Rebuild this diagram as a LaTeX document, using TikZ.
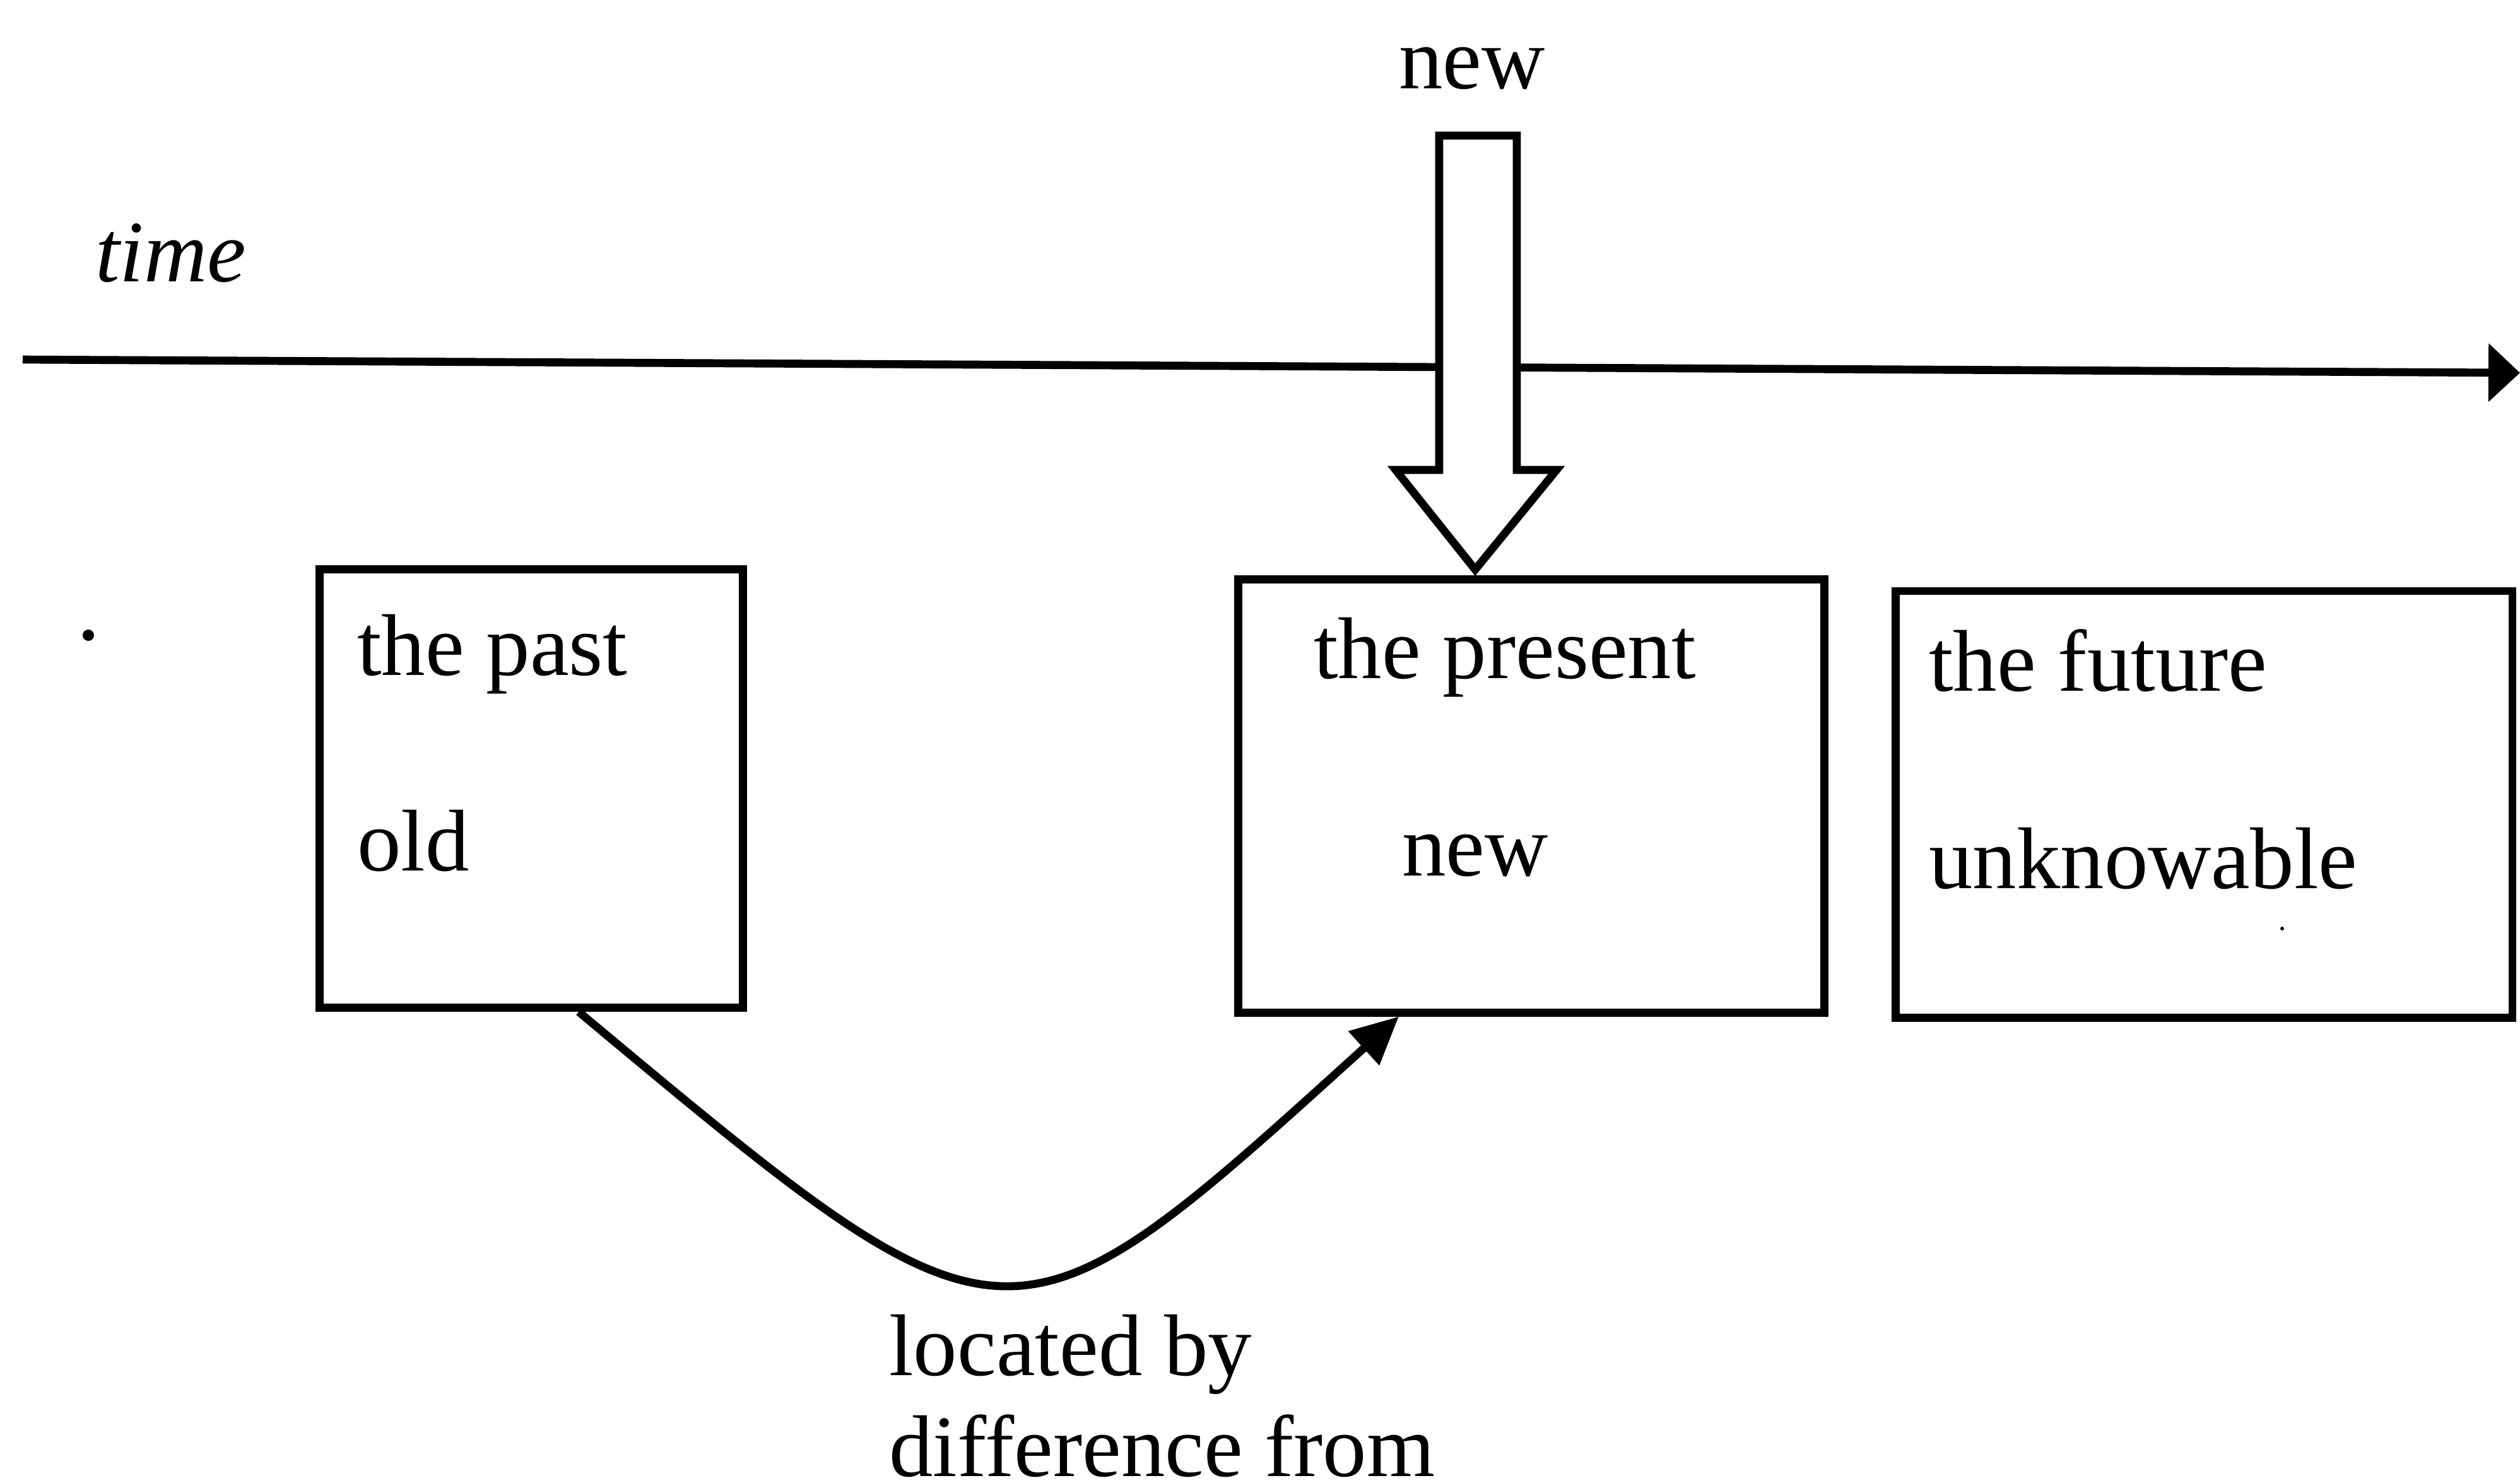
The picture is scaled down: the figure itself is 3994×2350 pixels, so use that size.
\documentclass[tikz,border=0pt]{standalone}
\usepackage{fontspec}
\setmainfont{Liberation Serif}
\usetikzlibrary{arrows.meta}

\begin{document}
\begin{tikzpicture}[x=0.01cm, y=-0.01cm, line width=3.6pt,
    period/.style={draw, inner sep=0pt},
    label/.style={inner sep=0pt, anchor=base west, font=\fontsize{39.5}{45.5}\selectfont},
    flow/.style={-{Triangle[length=0.75cm, width=0.7cm]}},
  ]
  \useasboundingbox (0,0) rectangle (3994,2350);

  \coordinate (tstart) at (36,570);
  \coordinate (tend) at (3994,591);
  \draw[-{Triangle[length=0.5cm, width=0.9cm]}] (tstart) -- (tend);

  \node[period, minimum width=6.70cm, minimum height=6.95cm] (past) at (842,1250) {};
  \node[period, minimum width=9.29cm, minimum height=6.86cm] (present) at (2427,1262) {};
  \node[period, minimum width=9.77cm, minimum height=6.76cm] (future) at (3493,1275) {};

  \node[label] (timename) at (145,446) {\itshape time};
  \node[label] (newname) at (2211,140) {new};
  \node[label] (pastname) at (560,1070) {the past};
  \node[label] (pastword) at (560,1380) {old};
  \node[label] (presentname) at (2076,1075) {the present};
  \node[label] (presentword) at (2216,1388) {new};
  \node[label] (futurename) at (3051,1095) {the future};
  \node[label] (futureword) at (3051,1408) {unknowable};
  \node[label, anchor=north west, align=left] (locate) at (1403,2078) {located by\\difference from};

  \draw[fill=white, line join=miter] (2281,215) -- (2404,215) -- (2404,745) -- (2467,745)
    -- (2338,903) -- (2212,745) -- (2281,745) -- cycle;

  \draw[flow] (past.-78) .. controls (1602,2176) and (1597,2173) .. (present.-121);

  \fill (140,1007) circle[radius=0.09cm];
  \fill (3617,1472) circle[radius=0.03cm];
\end{tikzpicture}
\end{document}
